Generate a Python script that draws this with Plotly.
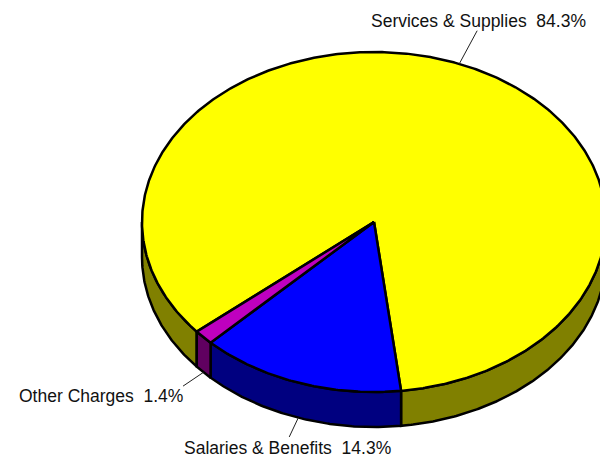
import numpy as np
import plotly.graph_objects as go

# Budget shares, in the order they run around the pie
categories = ["Services & Supplies", "Salaries & Benefits", "Other Charges"]
shares = [84.3, 14.3, 1.4]
top_colors = ["#FFFF00", "#0000FF", "#BF00BF"]
wall_colors = ["#808000", "#000080", "#600060"]
leader_reach = [1.21, 1.12, 1.12]

# Pie geometry in page pixels
CX, CY = 374, 222
RX, RY = 232, 170
DEPTH = 35
START_DEG = 6.7  # where the first slice begins, counter-clockwise from straight down


def rim(t_deg, drop=0.0):
    t = np.radians(t_deg)
    return CX + RX * np.sin(t), CY + RY * np.cos(t) + drop


def arc(t0, t1, drop=0.0):
    n = max(2, int(abs(t1 - t0) * 2) + 1)
    return rim(np.linspace(t0, t1, n), drop)


# Slice spans: the first runs counter-clockwise from the start, the rest clockwise
spans = [(START_DEG, START_DEG + shares[0] * 3.6)]
edge = START_DEG
for share in shares[1:]:
    spans.append((edge - share * 3.6, edge))
    edge -= share * 3.6

fig = go.Figure()


def add_poly(xs, ys, fill):
    fig.add_trace(go.Scatter(
        x=xs, y=ys, mode="lines", fill="toself", fillcolor=fill,
        line=dict(color="black", width=2.5), hoverinfo="skip", showlegend=False,
    ))


# Outer walls: only the front half of the rim can be seen
for (t0, t1), color in zip(spans, wall_colors):
    for shift in (0, -360):
        a, b = max(t0 + shift, -90), min(t1 + shift, 90)
        if b > a:
            tx, ty = arc(a, b)
            bx, by = arc(b, a, DEPTH)
            add_poly(np.r_[tx, bx, tx[0]], np.r_[ty, by, ty[0]], color)

# Top faces
for (t0, t1), color in zip(spans, top_colors):
    ax, ay = arc(t0, t1)
    add_poly(np.r_[CX, ax, CX], np.r_[CY, ay, CY], color)

# Leader lines and labels
label_spots = [(478, 21), (287, 448), (100.5, 396)]
for i, ((t0, t1), reach, name, share) in enumerate(zip(spans, leader_reach, categories, shares)):
    mid = (t0 + t1) / 2
    drop = DEPTH if np.cos(np.radians(mid)) > 0 else 0
    x0, y0 = rim(mid)
    x1 = CX + (x0 - CX) * reach
    y1 = CY + (y0 - CY) * reach
    fig.add_trace(go.Scatter(
        x=[x0, x1], y=[y0 + drop, y1 + drop], mode="lines",
        line=dict(color="#202020", width=1), hoverinfo="skip", showlegend=False,
    ))
    lx, ly = label_spots[i]
    fig.add_annotation(
        x=lx, y=ly, xref="x", yref="y", text=f"{name}  {share}%", showarrow=False,
        xanchor="center", yanchor="middle",
        font=dict(family="Liberation Sans, Arial, sans-serif", size=17.5, color="#111111"),
    )

fig.update_layout(
    width=600, height=458, margin=dict(l=0, r=0, t=0, b=0),
    paper_bgcolor="white", plot_bgcolor="white", showlegend=False,
    xaxis=dict(range=[0, 600], visible=False, fixedrange=True),
    yaxis=dict(range=[458, 0], visible=False, fixedrange=True),
)
fig.write_html("out.html", config={"displayModeBar": False})
